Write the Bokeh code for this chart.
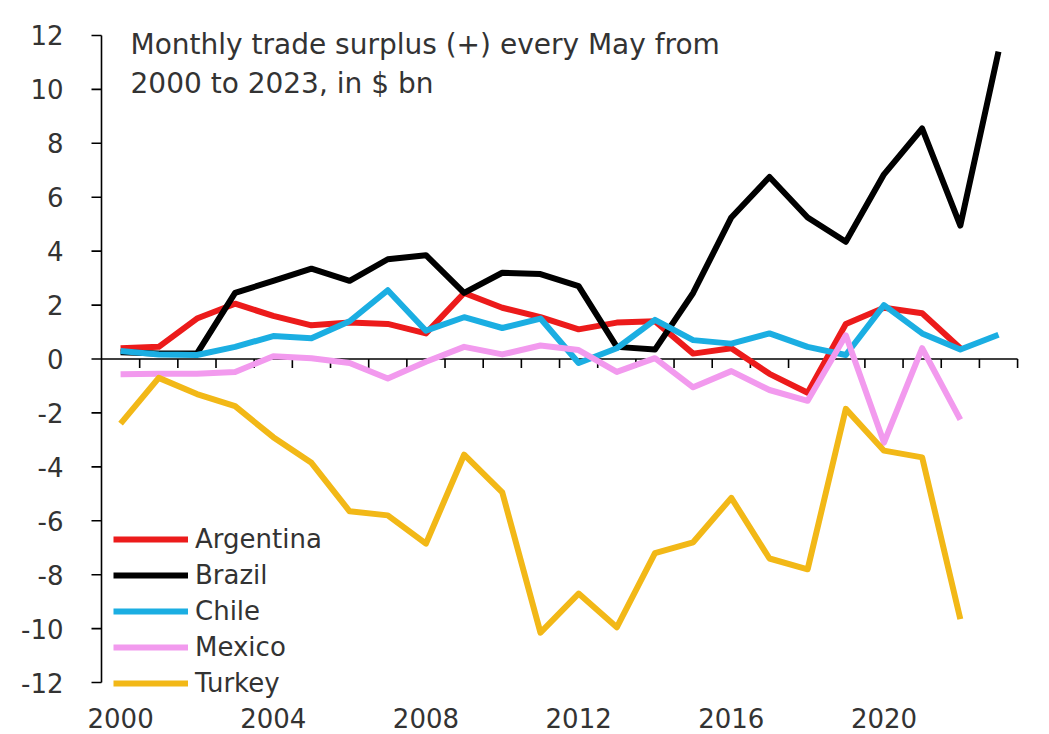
from bokeh.plotting import figure
from bokeh.models import Range1d, Legend, LegendItem, Label
from bokeh.embed import file_html
from bokeh.resources import INLINE
from bokeh.core.properties import value

nan = float("nan")

# ---------------- data ----------------
years = list(range(2000, 2024))
argentina = [0.4, 0.45, 1.5, 2.05, 1.6, 1.25, 1.35, 1.3, 0.95, 2.45, 1.9, 1.55,
             1.1, 1.35, 1.4, 0.2, 0.4, -0.55, -1.25, 1.3, 1.9, 1.7, 0.4, nan]
brazil = [0.25, 0.2, 0.2, 2.45, 2.9, 3.35, 2.9, 3.7, 3.85, 2.45, 3.2, 3.15,
          2.7, 0.45, 0.35, 2.45, 5.25, 6.75, 5.25, 4.35, 6.85, 8.55, 4.95, 11.4]
chile = [0.3, 0.17, 0.15, 0.45, 0.85, 0.77, 1.4, 2.55, 1.05, 1.55, 1.15, 1.5,
         -0.15, 0.4, 1.45, 0.7, 0.57, 0.95, 0.45, 0.15, 2.0, 0.95, 0.35, 0.9]
mexico = [-0.57, -0.55, -0.55, -0.48, 0.1, 0.03, -0.15, -0.72, -0.1, 0.45, 0.17, 0.5,
          0.33, -0.48, 0.03, -1.05, -0.45, -1.15, -1.55, 0.88, -3.1, 0.4, -2.25, nan]
turkey = [-2.4, -0.7, -1.3, -1.75, -2.9, -3.85, -5.65, -5.8, -6.85, -3.55, -4.95, -10.15,
          -8.7, -9.95, -7.2, -6.8, -5.15, -7.4, -7.8, -1.85, -3.4, -3.65, -9.65, nan]

series_names = ["Argentina", "Brazil", "Chile", "Mexico", "Turkey"]
series_values = [argentina, brazil, chile, mexico, turkey]
series_colors = ["#EC1B1B", "#000000", "#1BAEE2", "#F29AEE", "#F2B817"]

y_ticks = list(range(-12, 13, 2))
y_tick_texts = [str(t) for t in y_ticks]
x_label_years = [2000, 2004, 2008, 2012, 2016, 2020]
x_label_texts = [str(y) for y in x_label_years]
title_lines = ["Monthly trade surplus (+)  every May from", "2000  to 2023,  in $ bn"]

# ---------------- layout constants (pixels) ----------------
W, H = 1041, 734
AX_X = 101          # pixel column of the y axis
ZERO_Y = 358.5      # pixel row of value 0
PX_PER_YEAR = 38.17
PX_PER_UNIT = 26.96

FONT = "DejaVu Sans"
TXT = "#333333"
X_START = years[0] - 0.5
X_END = years[-1] + 0.5
Y_LOW = y_ticks[0]
Y_HIGH = y_ticks[-1]

x0_range = X_START - AX_X / PX_PER_YEAR
x1_range = X_START + (W - AX_X) / PX_PER_YEAR
y1_range = ZERO_Y / PX_PER_UNIT
y0_range = -(H - ZERO_Y) / PX_PER_UNIT

p = figure(width=W, height=H, output_backend="svg", toolbar_location=None,
           x_range=Range1d(x0_range, x1_range), y_range=Range1d(y0_range, y1_range),
           min_border=0)
p.outline_line_color = None
p.xgrid.visible = False
p.ygrid.visible = False
p.xaxis.visible = False
p.yaxis.visible = False
p.background_fill_color = "white"
p.border_fill_color = "white"

AXW = 1.6
# y axis line, ticks, labels
p.segment(x0=[X_START], y0=[Y_LOW], x1=[X_START], y1=[Y_HIGH],
          line_color="black", line_width=AXW)
ytick_len = 10 / PX_PER_YEAR
p.segment(x0=[X_START - ytick_len] * len(y_ticks), y0=y_ticks,
          x1=[X_START] * len(y_ticks), y1=y_ticks, line_color="black", line_width=AXW)
p.text(x=[X_START] * len(y_ticks), y=y_ticks, text=y_tick_texts, x_offset=-38,
       text_align="right", text_baseline="middle", text_font=value(FONT),
       text_font_size="26px", text_color=TXT)

# x axis at zero, ticks between categories, labels at bottom
p.segment(x0=[X_START], y0=[0], x1=[X_END], y1=[0], line_color="black", line_width=AXW)
tick_x = [y + 0.5 for y in years]
xtick_len = 9 / PX_PER_UNIT
p.segment(x0=tick_x, y0=[0] * len(tick_x), x1=tick_x, y1=[-xtick_len] * len(tick_x),
          line_color="black", line_width=AXW)
p.text(x=x_label_years, y=[Y_LOW - 35 / PX_PER_UNIT] * len(x_label_years),
       text=x_label_texts, text_align="center", text_baseline="alphabetic",
       text_font=value(FONT), text_font_size="26px", text_color=TXT)

# series
renderers = []
for name, vals, col in zip(series_names, series_values, series_colors):
    r = p.line(years, vals, line_color=col, line_width=6, line_join="round")
    renderers.append((name, r))

legend = Legend(items=[LegendItem(label=n, renderers=[r]) for n, r in renderers],
                location=(113, 33), orientation="vertical",
                glyph_width=75, glyph_height=36, label_height=36, spacing=0,
                padding=0, margin=0, label_standoff=7,
                label_text_font=FONT, label_text_font_size="26px",
                label_text_color=TXT, border_line_color=None,
                background_fill_alpha=0)
p.add_layout(legend)

# title annotation
p.add_layout(Label(x=2000.26, y=11.66, text=title_lines[0], text_font=FONT,
                   text_font_size="28px", text_color=TXT, text_baseline="alphabetic"))
p.add_layout(Label(x=2000.26, y=10.23, text=title_lines[1], text_font=FONT,
                   text_font_size="28px", text_color=TXT, text_baseline="alphabetic"))

open("out.html", "w").write(file_html(p, INLINE))
